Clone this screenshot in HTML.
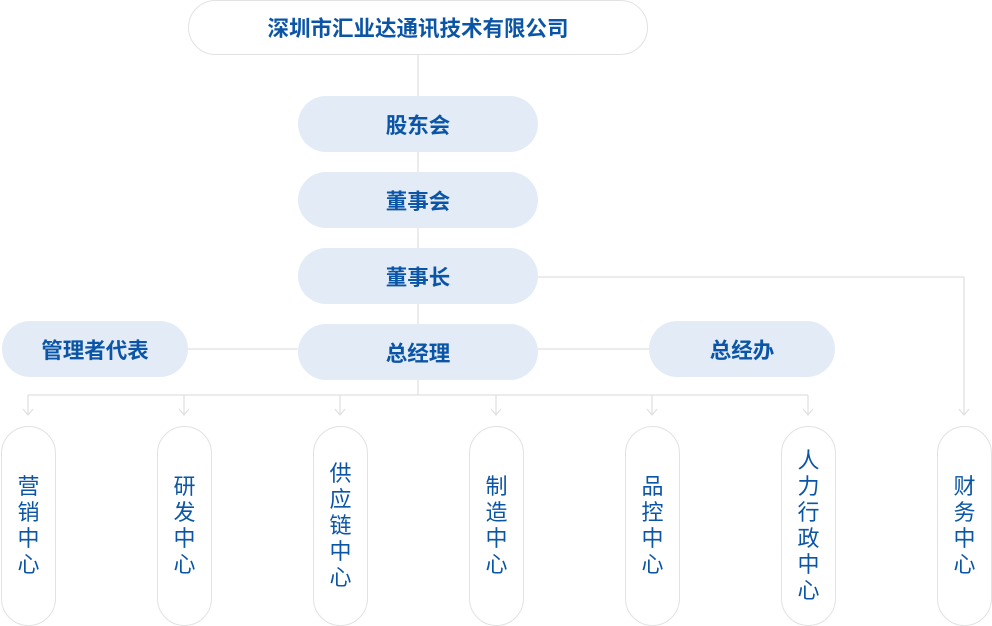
<!DOCTYPE html>
<html><head><meta charset="utf-8"><style>
body{margin:0;width:992px;height:626px;background:#fff;position:relative;overflow:hidden;font-family:"Liberation Sans","Noto Sans CJK SC",sans-serif}
.b{position:absolute;box-sizing:border-box;display:flex;align-items:center;justify-content:center;color:#0b55a6;font-weight:bold;font-size:21.5px;border-radius:28px;background:#e3ecf6}
.t{background:#fff;border:1px solid #e2e2e2}
.v{position:absolute;top:426px;width:55px;height:200px;box-sizing:border-box;border:1px solid #e2e2e2;border-radius:28px;display:flex;align-items:center;justify-content:center;text-align:center;color:#0b55a6;font-size:22px;line-height:26px;background:#fff}
svg{position:absolute;left:0;top:0}
</style></head><body>
<svg width="992" height="626">
<g stroke="#e0e0e0" stroke-width="1.2" fill="none">
<line x1="418" y1="55" x2="418" y2="395"/>
<line x1="188" y1="349" x2="298" y2="349"/>
<line x1="538" y1="349" x2="649" y2="349"/>
<polyline points="538,277 964,277 964,415"/>
<line x1="28" y1="395" x2="808" y2="395"/>
<g id="a">
<line x1="28" y1="395" x2="28" y2="415"/><polyline points="23,409 28,415 33,409"/>
</g>
<use href="#a" x="156"/><use href="#a" x="312"/><use href="#a" x="468"/><use href="#a" x="624"/><use href="#a" x="780"/>
<polyline points="959,409 964,415 969,409"/>
</g>
</svg>
<div class="b t" style="left:188px;top:0;width:460px;height:55px">深圳市汇业达通讯技术有限公司</div>
<div class="b" style="left:298px;top:96px;width:240px;height:56px">股东会</div>
<div class="b" style="left:298px;top:172px;width:240px;height:56px">董事会</div>
<div class="b" style="left:298px;top:248px;width:240px;height:56px">董事长</div>
<div class="b" style="left:298px;top:324px;width:240px;height:56px">总经理</div>
<div class="b" style="left:2px;top:321px;width:186px;height:56px">管理者代表</div>
<div class="b" style="left:649px;top:321px;width:186px;height:56px">总经办</div>
<div class="v" style="left:1px">营<br>销<br>中<br>心</div>
<div class="v" style="left:157px">研<br>发<br>中<br>心</div>
<div class="v" style="left:313px">供<br>应<br>链<br>中<br>心</div>
<div class="v" style="left:469px">制<br>造<br>中<br>心</div>
<div class="v" style="left:625px">品<br>控<br>中<br>心</div>
<div class="v" style="left:781px">人<br>力<br>行<br>政<br>中<br>心</div>
<div class="v" style="left:937px">财<br>务<br>中<br>心</div>
</body></html>
